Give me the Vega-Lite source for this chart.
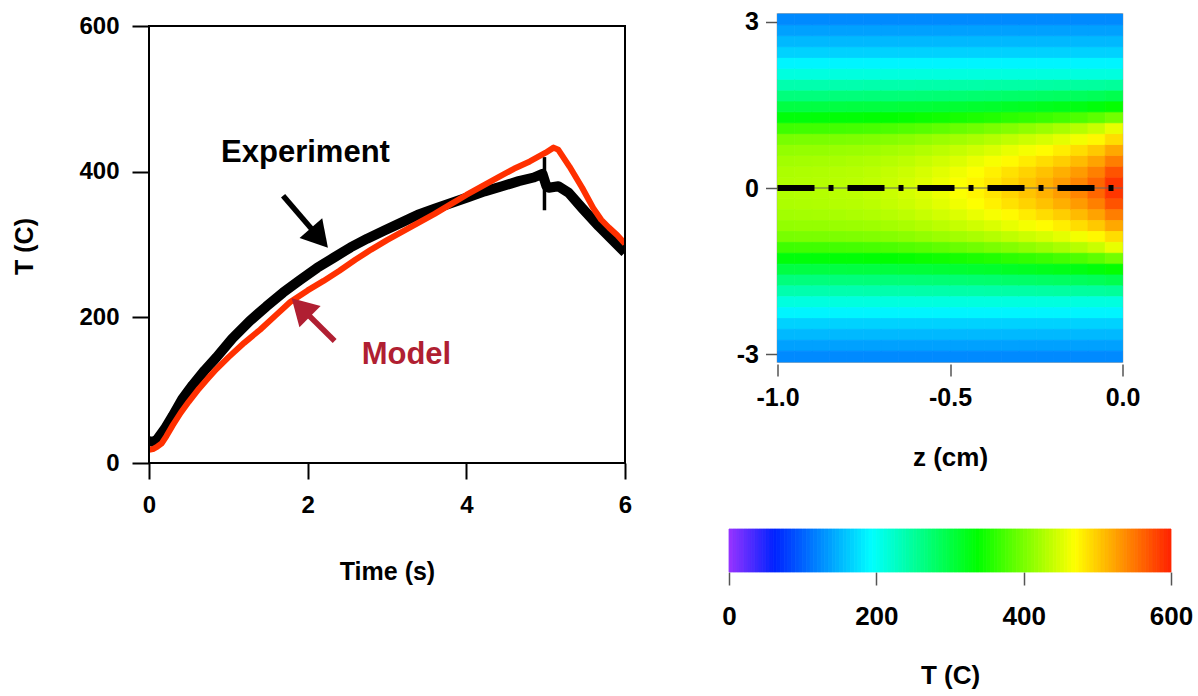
{
"$schema": "https://vega.github.io/schema/vega-lite/v6.json",
"background": "white",
"padding": {"left": 12, "top": 9, "right": 5, "bottom": 5},
"datasets": {
"exp": [{"t":0,"T":30},{"t":0.05,"T":29},{"t":0.1,"T":32},{"t":0.2,"T":47},{"t":0.3,"T":65},{"t":0.42,"T":88},{"t":0.55,"T":107},{"t":0.7,"T":127},{"t":0.85,"T":145},{"t":1.05,"T":171},{"t":1.27,"T":195},{"t":1.48,"T":215},{"t":1.69,"T":234},{"t":1.9,"T":251},{"t":2.12,"T":268},{"t":2.33,"T":282},{"t":2.54,"T":296},{"t":2.75,"T":308},{"t":2.96,"T":319},{"t":3.18,"T":330},{"t":3.39,"T":341},{"t":3.6,"T":349},{"t":3.81,"T":357},{"t":4.02,"T":365},{"t":4.23,"T":373},{"t":4.45,"T":380},{"t":4.66,"T":387},{"t":4.85,"T":392},{"t":4.96,"T":397},{"t":5.01,"T":380},{"t":5.04,"T":378},{"t":5.16,"T":380},{"t":5.29,"T":371},{"t":5.46,"T":350},{"t":5.67,"T":325},{"t":5.88,"T":302},{"t":6,"T":289}],
"model": [{"t":0,"T":18},{"t":0.05,"T":19},{"t":0.1,"T":22},{"t":0.16,"T":27},{"t":0.22,"T":37},{"t":0.3,"T":52},{"t":0.4,"T":69},{"t":0.5,"T":84},{"t":0.63,"T":102},{"t":0.75,"T":117},{"t":0.85,"T":129},{"t":1.0,"T":145},{"t":1.2,"T":165},{"t":1.4,"T":183},{"t":1.6,"T":203},{"t":1.78,"T":221},{"t":2.0,"T":237},{"t":2.2,"T":250},{"t":2.4,"T":264},{"t":2.6,"T":279},{"t":2.8,"T":293},{"t":3.0,"T":306},{"t":3.2,"T":318},{"t":3.4,"T":330},{"t":3.6,"T":342},{"t":3.8,"T":355},{"t":4.0,"T":368},{"t":4.2,"T":380},{"t":4.4,"T":392},{"t":4.6,"T":404},{"t":4.8,"T":414},{"t":5.0,"T":426},{"t":5.1,"T":433},{"t":5.16,"T":430},{"t":5.3,"T":407},{"t":5.46,"T":378},{"t":5.6,"T":350},{"t":5.7,"T":334},{"t":5.8,"T":323},{"t":5.9,"T":313},{"t":6.0,"T":301}],
"bar": [{"a":0,"b":5,"c":2.5},{"a":5,"b":10,"c":7.5},{"a":10,"b":15,"c":12.5},{"a":15,"b":20,"c":17.5},{"a":20,"b":25,"c":22.5},{"a":25,"b":30,"c":27.5},{"a":30,"b":35,"c":32.5},{"a":35,"b":40,"c":37.5},{"a":40,"b":45,"c":42.5},{"a":45,"b":50,"c":47.5},{"a":50,"b":55,"c":52.5},{"a":55,"b":60,"c":57.5},{"a":60,"b":65,"c":62.5},{"a":65,"b":70,"c":67.5},{"a":70,"b":75,"c":72.5},{"a":75,"b":80,"c":77.5},{"a":80,"b":85,"c":82.5},{"a":85,"b":90,"c":87.5},{"a":90,"b":95,"c":92.5},{"a":95,"b":100,"c":97.5},{"a":100,"b":105,"c":102.5},{"a":105,"b":110,"c":107.5},{"a":110,"b":115,"c":112.5},{"a":115,"b":120,"c":117.5},{"a":120,"b":125,"c":122.5},{"a":125,"b":130,"c":127.5},{"a":130,"b":135,"c":132.5},{"a":135,"b":140,"c":137.5},{"a":140,"b":145,"c":142.5},{"a":145,"b":150,"c":147.5},{"a":150,"b":155,"c":152.5},{"a":155,"b":160,"c":157.5},{"a":160,"b":165,"c":162.5},{"a":165,"b":170,"c":167.5},{"a":170,"b":175,"c":172.5},{"a":175,"b":180,"c":177.5},{"a":180,"b":185,"c":182.5},{"a":185,"b":190,"c":187.5},{"a":190,"b":195,"c":192.5},{"a":195,"b":200,"c":197.5},{"a":200,"b":205,"c":202.5},{"a":205,"b":210,"c":207.5},{"a":210,"b":215,"c":212.5},{"a":215,"b":220,"c":217.5},{"a":220,"b":225,"c":222.5},{"a":225,"b":230,"c":227.5},{"a":230,"b":235,"c":232.5},{"a":235,"b":240,"c":237.5},{"a":240,"b":245,"c":242.5},{"a":245,"b":250,"c":247.5},{"a":250,"b":255,"c":252.5},{"a":255,"b":260,"c":257.5},{"a":260,"b":265,"c":262.5},{"a":265,"b":270,"c":267.5},{"a":270,"b":275,"c":272.5},{"a":275,"b":280,"c":277.5},{"a":280,"b":285,"c":282.5},{"a":285,"b":290,"c":287.5},{"a":290,"b":295,"c":292.5},{"a":295,"b":300,"c":297.5},{"a":300,"b":305,"c":302.5},{"a":305,"b":310,"c":307.5},{"a":310,"b":315,"c":312.5},{"a":315,"b":320,"c":317.5},{"a":320,"b":325,"c":322.5},{"a":325,"b":330,"c":327.5},{"a":330,"b":335,"c":332.5},{"a":335,"b":340,"c":337.5},{"a":340,"b":345,"c":342.5},{"a":345,"b":350,"c":347.5},{"a":350,"b":355,"c":352.5},{"a":355,"b":360,"c":357.5},{"a":360,"b":365,"c":362.5},{"a":365,"b":370,"c":367.5},{"a":370,"b":375,"c":372.5},{"a":375,"b":380,"c":377.5},{"a":380,"b":385,"c":382.5},{"a":385,"b":390,"c":387.5},{"a":390,"b":395,"c":392.5},{"a":395,"b":400,"c":397.5},{"a":400,"b":405,"c":402.5},{"a":405,"b":410,"c":407.5},{"a":410,"b":415,"c":412.5},{"a":415,"b":420,"c":417.5},{"a":420,"b":425,"c":422.5},{"a":425,"b":430,"c":427.5},{"a":430,"b":435,"c":432.5},{"a":435,"b":440,"c":437.5},{"a":440,"b":445,"c":442.5},{"a":445,"b":450,"c":447.5},{"a":450,"b":455,"c":452.5},{"a":455,"b":460,"c":457.5},{"a":460,"b":465,"c":462.5},{"a":465,"b":470,"c":467.5},{"a":470,"b":475,"c":472.5},{"a":475,"b":480,"c":477.5},{"a":480,"b":485,"c":482.5},{"a":485,"b":490,"c":487.5},{"a":490,"b":495,"c":492.5},{"a":495,"b":500,"c":497.5},{"a":500,"b":505,"c":502.5},{"a":505,"b":510,"c":507.5},{"a":510,"b":515,"c":512.5},{"a":515,"b":520,"c":517.5},{"a":520,"b":525,"c":522.5},{"a":525,"b":530,"c":527.5},{"a":530,"b":535,"c":532.5},{"a":535,"b":540,"c":537.5},{"a":540,"b":545,"c":542.5},{"a":545,"b":550,"c":547.5},{"a":550,"b":555,"c":552.5},{"a":555,"b":560,"c":557.5},{"a":560,"b":565,"c":562.5},{"a":565,"b":570,"c":567.5},{"a":570,"b":575,"c":572.5},{"a":575,"b":580,"c":577.5},{"a":580,"b":585,"c":582.5},{"a":585,"b":590,"c":587.5},{"a":590,"b":595,"c":592.5},{"a":595,"b":600,"c":597.5}],
"field": [
{"z":-0.975,"r":0.098,"T":429},{"z":-0.975,"r":0.295,"T":427},{"z":-0.975,"r":0.491,"T":422},{"z":-0.975,"r":0.687,"T":414},{"z":-0.975,"r":0.884,"T":400},{"z":-0.975,"r":1.08,"T":370},{"z":-0.975,"r":1.276,"T":333},{"z":-0.975,"r":1.473,"T":300},{"z":-0.975,"r":1.669,"T":268},{"z":-0.975,"r":1.865,"T":240},{"z":-0.975,"r":2.062,"T":212},{"z":-0.975,"r":2.258,"T":188},{"z":-0.975,"r":2.454,"T":167},{"z":-0.975,"r":2.651,"T":152},{"z":-0.975,"r":2.847,"T":138},{"z":-0.975,"r":3.043,"T":124},
{"z":-0.975,"r":-0.098,"T":429},{"z":-0.975,"r":-0.295,"T":427},{"z":-0.975,"r":-0.491,"T":422},{"z":-0.975,"r":-0.687,"T":414},{"z":-0.975,"r":-0.884,"T":400},{"z":-0.975,"r":-1.08,"T":370},{"z":-0.975,"r":-1.276,"T":333},{"z":-0.975,"r":-1.473,"T":300},{"z":-0.975,"r":-1.669,"T":268},{"z":-0.975,"r":-1.865,"T":240},{"z":-0.975,"r":-2.062,"T":212},{"z":-0.975,"r":-2.258,"T":188},{"z":-0.975,"r":-2.454,"T":167},{"z":-0.975,"r":-2.651,"T":152},{"z":-0.975,"r":-2.847,"T":138},{"z":-0.975,"r":-3.043,"T":124},
{"z":-0.925,"r":0.098,"T":430},{"z":-0.925,"r":0.295,"T":428},{"z":-0.925,"r":0.491,"T":423},{"z":-0.925,"r":0.687,"T":415},{"z":-0.925,"r":0.884,"T":401},{"z":-0.925,"r":1.08,"T":371},{"z":-0.925,"r":1.276,"T":333},{"z":-0.925,"r":1.473,"T":300},{"z":-0.925,"r":1.669,"T":268},{"z":-0.925,"r":1.865,"T":240},{"z":-0.925,"r":2.062,"T":212},{"z":-0.925,"r":2.258,"T":188},{"z":-0.925,"r":2.454,"T":167},{"z":-0.925,"r":2.651,"T":152},{"z":-0.925,"r":2.847,"T":138},{"z":-0.925,"r":3.043,"T":124},
{"z":-0.925,"r":-0.098,"T":430},{"z":-0.925,"r":-0.295,"T":428},{"z":-0.925,"r":-0.491,"T":423},{"z":-0.925,"r":-0.687,"T":415},{"z":-0.925,"r":-0.884,"T":401},{"z":-0.925,"r":-1.08,"T":371},{"z":-0.925,"r":-1.276,"T":333},{"z":-0.925,"r":-1.473,"T":300},{"z":-0.925,"r":-1.669,"T":268},{"z":-0.925,"r":-1.865,"T":240},{"z":-0.925,"r":-2.062,"T":212},{"z":-0.925,"r":-2.258,"T":188},{"z":-0.925,"r":-2.454,"T":167},{"z":-0.925,"r":-2.651,"T":152},{"z":-0.925,"r":-2.847,"T":138},{"z":-0.925,"r":-3.043,"T":124},
{"z":-0.875,"r":0.098,"T":431},{"z":-0.875,"r":0.295,"T":429},{"z":-0.875,"r":0.491,"T":424},{"z":-0.875,"r":0.687,"T":415},{"z":-0.875,"r":0.884,"T":401},{"z":-0.875,"r":1.08,"T":371},{"z":-0.875,"r":1.276,"T":334},{"z":-0.875,"r":1.473,"T":301},{"z":-0.875,"r":1.669,"T":268},{"z":-0.875,"r":1.865,"T":240},{"z":-0.875,"r":2.062,"T":212},{"z":-0.875,"r":2.258,"T":188},{"z":-0.875,"r":2.454,"T":167},{"z":-0.875,"r":2.651,"T":152},{"z":-0.875,"r":2.847,"T":138},{"z":-0.875,"r":3.043,"T":124},
{"z":-0.875,"r":-0.098,"T":431},{"z":-0.875,"r":-0.295,"T":429},{"z":-0.875,"r":-0.491,"T":424},{"z":-0.875,"r":-0.687,"T":415},{"z":-0.875,"r":-0.884,"T":401},{"z":-0.875,"r":-1.08,"T":371},{"z":-0.875,"r":-1.276,"T":334},{"z":-0.875,"r":-1.473,"T":301},{"z":-0.875,"r":-1.669,"T":268},{"z":-0.875,"r":-1.865,"T":240},{"z":-0.875,"r":-2.062,"T":212},{"z":-0.875,"r":-2.258,"T":188},{"z":-0.875,"r":-2.454,"T":167},{"z":-0.875,"r":-2.651,"T":152},{"z":-0.875,"r":-2.847,"T":138},{"z":-0.875,"r":-3.043,"T":124},
{"z":-0.825,"r":0.098,"T":433},{"z":-0.825,"r":0.295,"T":431},{"z":-0.825,"r":0.491,"T":425},{"z":-0.825,"r":0.687,"T":417},{"z":-0.825,"r":0.884,"T":402},{"z":-0.825,"r":1.08,"T":372},{"z":-0.825,"r":1.276,"T":335},{"z":-0.825,"r":1.473,"T":301},{"z":-0.825,"r":1.669,"T":269},{"z":-0.825,"r":1.865,"T":240},{"z":-0.825,"r":2.062,"T":212},{"z":-0.825,"r":2.258,"T":188},{"z":-0.825,"r":2.454,"T":167},{"z":-0.825,"r":2.651,"T":152},{"z":-0.825,"r":2.847,"T":138},{"z":-0.825,"r":3.043,"T":124},
{"z":-0.825,"r":-0.098,"T":433},{"z":-0.825,"r":-0.295,"T":431},{"z":-0.825,"r":-0.491,"T":425},{"z":-0.825,"r":-0.687,"T":417},{"z":-0.825,"r":-0.884,"T":402},{"z":-0.825,"r":-1.08,"T":372},{"z":-0.825,"r":-1.276,"T":335},{"z":-0.825,"r":-1.473,"T":301},{"z":-0.825,"r":-1.669,"T":269},{"z":-0.825,"r":-1.865,"T":240},{"z":-0.825,"r":-2.062,"T":212},{"z":-0.825,"r":-2.258,"T":188},{"z":-0.825,"r":-2.454,"T":167},{"z":-0.825,"r":-2.651,"T":152},{"z":-0.825,"r":-2.847,"T":138},{"z":-0.825,"r":-3.043,"T":124},
{"z":-0.775,"r":0.098,"T":435},{"z":-0.775,"r":0.295,"T":432},{"z":-0.775,"r":0.491,"T":427},{"z":-0.775,"r":0.687,"T":418},{"z":-0.775,"r":0.884,"T":403},{"z":-0.775,"r":1.08,"T":373},{"z":-0.775,"r":1.276,"T":335},{"z":-0.775,"r":1.473,"T":302},{"z":-0.775,"r":1.669,"T":269},{"z":-0.775,"r":1.865,"T":240},{"z":-0.775,"r":2.062,"T":212},{"z":-0.775,"r":2.258,"T":188},{"z":-0.775,"r":2.454,"T":167},{"z":-0.775,"r":2.651,"T":152},{"z":-0.775,"r":2.847,"T":138},{"z":-0.775,"r":3.043,"T":124},
{"z":-0.775,"r":-0.098,"T":435},{"z":-0.775,"r":-0.295,"T":432},{"z":-0.775,"r":-0.491,"T":427},{"z":-0.775,"r":-0.687,"T":418},{"z":-0.775,"r":-0.884,"T":403},{"z":-0.775,"r":-1.08,"T":373},{"z":-0.775,"r":-1.276,"T":335},{"z":-0.775,"r":-1.473,"T":302},{"z":-0.775,"r":-1.669,"T":269},{"z":-0.775,"r":-1.865,"T":240},{"z":-0.775,"r":-2.062,"T":212},{"z":-0.775,"r":-2.258,"T":188},{"z":-0.775,"r":-2.454,"T":167},{"z":-0.775,"r":-2.651,"T":152},{"z":-0.775,"r":-2.847,"T":138},{"z":-0.775,"r":-3.043,"T":124},
{"z":-0.725,"r":0.098,"T":438},{"z":-0.725,"r":0.295,"T":435},{"z":-0.725,"r":0.491,"T":429},{"z":-0.725,"r":0.687,"T":420},{"z":-0.725,"r":0.884,"T":405},{"z":-0.725,"r":1.08,"T":375},{"z":-0.725,"r":1.276,"T":337},{"z":-0.725,"r":1.473,"T":302},{"z":-0.725,"r":1.669,"T":270},{"z":-0.725,"r":1.865,"T":241},{"z":-0.725,"r":2.062,"T":212},{"z":-0.725,"r":2.258,"T":188},{"z":-0.725,"r":2.454,"T":167},{"z":-0.725,"r":2.651,"T":152},{"z":-0.725,"r":2.847,"T":138},{"z":-0.725,"r":3.043,"T":124},
{"z":-0.725,"r":-0.098,"T":438},{"z":-0.725,"r":-0.295,"T":435},{"z":-0.725,"r":-0.491,"T":429},{"z":-0.725,"r":-0.687,"T":420},{"z":-0.725,"r":-0.884,"T":405},{"z":-0.725,"r":-1.08,"T":375},{"z":-0.725,"r":-1.276,"T":337},{"z":-0.725,"r":-1.473,"T":302},{"z":-0.725,"r":-1.669,"T":270},{"z":-0.725,"r":-1.865,"T":241},{"z":-0.725,"r":-2.062,"T":212},{"z":-0.725,"r":-2.258,"T":188},{"z":-0.725,"r":-2.454,"T":167},{"z":-0.725,"r":-2.651,"T":152},{"z":-0.725,"r":-2.847,"T":138},{"z":-0.725,"r":-3.043,"T":124},
{"z":-0.675,"r":0.098,"T":442},{"z":-0.675,"r":0.295,"T":439},{"z":-0.675,"r":0.491,"T":432},{"z":-0.675,"r":0.687,"T":423},{"z":-0.675,"r":0.884,"T":407},{"z":-0.675,"r":1.08,"T":377},{"z":-0.675,"r":1.276,"T":338},{"z":-0.675,"r":1.473,"T":303},{"z":-0.675,"r":1.669,"T":270},{"z":-0.675,"r":1.865,"T":241},{"z":-0.675,"r":2.062,"T":212},{"z":-0.675,"r":2.258,"T":188},{"z":-0.675,"r":2.454,"T":167},{"z":-0.675,"r":2.651,"T":152},{"z":-0.675,"r":2.847,"T":138},{"z":-0.675,"r":3.043,"T":124},
{"z":-0.675,"r":-0.098,"T":442},{"z":-0.675,"r":-0.295,"T":439},{"z":-0.675,"r":-0.491,"T":432},{"z":-0.675,"r":-0.687,"T":423},{"z":-0.675,"r":-0.884,"T":407},{"z":-0.675,"r":-1.08,"T":377},{"z":-0.675,"r":-1.276,"T":338},{"z":-0.675,"r":-1.473,"T":303},{"z":-0.675,"r":-1.669,"T":270},{"z":-0.675,"r":-1.865,"T":241},{"z":-0.675,"r":-2.062,"T":212},{"z":-0.675,"r":-2.258,"T":188},{"z":-0.675,"r":-2.454,"T":167},{"z":-0.675,"r":-2.651,"T":152},{"z":-0.675,"r":-2.847,"T":138},{"z":-0.675,"r":-3.043,"T":124},
{"z":-0.625,"r":0.098,"T":447},{"z":-0.625,"r":0.295,"T":443},{"z":-0.625,"r":0.491,"T":436},{"z":-0.625,"r":0.687,"T":426},{"z":-0.625,"r":0.884,"T":410},{"z":-0.625,"r":1.08,"T":380},{"z":-0.625,"r":1.276,"T":340},{"z":-0.625,"r":1.473,"T":305},{"z":-0.625,"r":1.669,"T":271},{"z":-0.625,"r":1.865,"T":241},{"z":-0.625,"r":2.062,"T":212},{"z":-0.625,"r":2.258,"T":188},{"z":-0.625,"r":2.454,"T":167},{"z":-0.625,"r":2.651,"T":152},{"z":-0.625,"r":2.847,"T":138},{"z":-0.625,"r":3.043,"T":124},
{"z":-0.625,"r":-0.098,"T":447},{"z":-0.625,"r":-0.295,"T":443},{"z":-0.625,"r":-0.491,"T":436},{"z":-0.625,"r":-0.687,"T":426},{"z":-0.625,"r":-0.884,"T":410},{"z":-0.625,"r":-1.08,"T":380},{"z":-0.625,"r":-1.276,"T":340},{"z":-0.625,"r":-1.473,"T":305},{"z":-0.625,"r":-1.669,"T":271},{"z":-0.625,"r":-1.865,"T":241},{"z":-0.625,"r":-2.062,"T":212},{"z":-0.625,"r":-2.258,"T":188},{"z":-0.625,"r":-2.454,"T":167},{"z":-0.625,"r":-2.651,"T":152},{"z":-0.625,"r":-2.847,"T":138},{"z":-0.625,"r":-3.043,"T":124},
{"z":-0.575,"r":0.098,"T":453},{"z":-0.575,"r":0.295,"T":449},{"z":-0.575,"r":0.491,"T":441},{"z":-0.575,"r":0.687,"T":430},{"z":-0.575,"r":0.884,"T":414},{"z":-0.575,"r":1.08,"T":383},{"z":-0.575,"r":1.276,"T":343},{"z":-0.575,"r":1.473,"T":306},{"z":-0.575,"r":1.669,"T":272},{"z":-0.575,"r":1.865,"T":242},{"z":-0.575,"r":2.062,"T":212},{"z":-0.575,"r":2.258,"T":188},{"z":-0.575,"r":2.454,"T":167},{"z":-0.575,"r":2.651,"T":152},{"z":-0.575,"r":2.847,"T":138},{"z":-0.575,"r":3.043,"T":124},
{"z":-0.575,"r":-0.098,"T":453},{"z":-0.575,"r":-0.295,"T":449},{"z":-0.575,"r":-0.491,"T":441},{"z":-0.575,"r":-0.687,"T":430},{"z":-0.575,"r":-0.884,"T":414},{"z":-0.575,"r":-1.08,"T":383},{"z":-0.575,"r":-1.276,"T":343},{"z":-0.575,"r":-1.473,"T":306},{"z":-0.575,"r":-1.669,"T":272},{"z":-0.575,"r":-1.865,"T":242},{"z":-0.575,"r":-2.062,"T":212},{"z":-0.575,"r":-2.258,"T":188},{"z":-0.575,"r":-2.454,"T":167},{"z":-0.575,"r":-2.651,"T":152},{"z":-0.575,"r":-2.847,"T":138},{"z":-0.575,"r":-3.043,"T":124},
{"z":-0.525,"r":0.098,"T":460},{"z":-0.525,"r":0.295,"T":455},{"z":-0.525,"r":0.491,"T":446},{"z":-0.525,"r":0.687,"T":435},{"z":-0.525,"r":0.884,"T":418},{"z":-0.525,"r":1.08,"T":387},{"z":-0.525,"r":1.276,"T":346},{"z":-0.525,"r":1.473,"T":308},{"z":-0.525,"r":1.669,"T":273},{"z":-0.525,"r":1.865,"T":242},{"z":-0.525,"r":2.062,"T":212},{"z":-0.525,"r":2.258,"T":188},{"z":-0.525,"r":2.454,"T":167},{"z":-0.525,"r":2.651,"T":152},{"z":-0.525,"r":2.847,"T":138},{"z":-0.525,"r":3.043,"T":124},
{"z":-0.525,"r":-0.098,"T":460},{"z":-0.525,"r":-0.295,"T":455},{"z":-0.525,"r":-0.491,"T":446},{"z":-0.525,"r":-0.687,"T":435},{"z":-0.525,"r":-0.884,"T":418},{"z":-0.525,"r":-1.08,"T":387},{"z":-0.525,"r":-1.276,"T":346},{"z":-0.525,"r":-1.473,"T":308},{"z":-0.525,"r":-1.669,"T":273},{"z":-0.525,"r":-1.865,"T":242},{"z":-0.525,"r":-2.062,"T":212},{"z":-0.525,"r":-2.258,"T":188},{"z":-0.525,"r":-2.454,"T":167},{"z":-0.525,"r":-2.651,"T":152},{"z":-0.525,"r":-2.847,"T":138},{"z":-0.525,"r":-3.043,"T":124},
{"z":-0.475,"r":0.098,"T":468},{"z":-0.475,"r":0.295,"T":462},{"z":-0.475,"r":0.491,"T":452},{"z":-0.475,"r":0.687,"T":440},{"z":-0.475,"r":0.884,"T":422},{"z":-0.475,"r":1.08,"T":392},{"z":-0.475,"r":1.276,"T":349},{"z":-0.475,"r":1.473,"T":310},{"z":-0.475,"r":1.669,"T":274},{"z":-0.475,"r":1.865,"T":243},{"z":-0.475,"r":2.062,"T":212},{"z":-0.475,"r":2.258,"T":188},{"z":-0.475,"r":2.454,"T":167},{"z":-0.475,"r":2.651,"T":152},{"z":-0.475,"r":2.847,"T":138},{"z":-0.475,"r":3.043,"T":124},
{"z":-0.475,"r":-0.098,"T":468},{"z":-0.475,"r":-0.295,"T":462},{"z":-0.475,"r":-0.491,"T":452},{"z":-0.475,"r":-0.687,"T":440},{"z":-0.475,"r":-0.884,"T":422},{"z":-0.475,"r":-1.08,"T":392},{"z":-0.475,"r":-1.276,"T":349},{"z":-0.475,"r":-1.473,"T":310},{"z":-0.475,"r":-1.669,"T":274},{"z":-0.475,"r":-1.865,"T":243},{"z":-0.475,"r":-2.062,"T":212},{"z":-0.475,"r":-2.258,"T":188},{"z":-0.475,"r":-2.454,"T":167},{"z":-0.475,"r":-2.651,"T":152},{"z":-0.475,"r":-2.847,"T":138},{"z":-0.475,"r":-3.043,"T":124},
{"z":-0.425,"r":0.098,"T":476},{"z":-0.425,"r":0.295,"T":469},{"z":-0.425,"r":0.491,"T":459},{"z":-0.425,"r":0.687,"T":445},{"z":-0.425,"r":0.884,"T":426},{"z":-0.425,"r":1.08,"T":396},{"z":-0.425,"r":1.276,"T":352},{"z":-0.425,"r":1.473,"T":312},{"z":-0.425,"r":1.669,"T":276},{"z":-0.425,"r":1.865,"T":243},{"z":-0.425,"r":2.062,"T":212},{"z":-0.425,"r":2.258,"T":188},{"z":-0.425,"r":2.454,"T":167},{"z":-0.425,"r":2.651,"T":152},{"z":-0.425,"r":2.847,"T":138},{"z":-0.425,"r":3.043,"T":124},
{"z":-0.425,"r":-0.098,"T":476},{"z":-0.425,"r":-0.295,"T":469},{"z":-0.425,"r":-0.491,"T":459},{"z":-0.425,"r":-0.687,"T":445},{"z":-0.425,"r":-0.884,"T":426},{"z":-0.425,"r":-1.08,"T":396},{"z":-0.425,"r":-1.276,"T":352},{"z":-0.425,"r":-1.473,"T":312},{"z":-0.425,"r":-1.669,"T":276},{"z":-0.425,"r":-1.865,"T":243},{"z":-0.425,"r":-2.062,"T":212},{"z":-0.425,"r":-2.258,"T":188},{"z":-0.425,"r":-2.454,"T":167},{"z":-0.425,"r":-2.651,"T":152},{"z":-0.425,"r":-2.847,"T":138},{"z":-0.425,"r":-3.043,"T":124},
{"z":-0.375,"r":0.098,"T":485},{"z":-0.375,"r":0.295,"T":478},{"z":-0.375,"r":0.491,"T":466},{"z":-0.375,"r":0.687,"T":451},{"z":-0.375,"r":0.884,"T":431},{"z":-0.375,"r":1.08,"T":401},{"z":-0.375,"r":1.276,"T":355},{"z":-0.375,"r":1.473,"T":314},{"z":-0.375,"r":1.669,"T":277},{"z":-0.375,"r":1.865,"T":244},{"z":-0.375,"r":2.062,"T":212},{"z":-0.375,"r":2.258,"T":188},{"z":-0.375,"r":2.454,"T":167},{"z":-0.375,"r":2.651,"T":152},{"z":-0.375,"r":2.847,"T":138},{"z":-0.375,"r":3.043,"T":124},
{"z":-0.375,"r":-0.098,"T":485},{"z":-0.375,"r":-0.295,"T":478},{"z":-0.375,"r":-0.491,"T":466},{"z":-0.375,"r":-0.687,"T":451},{"z":-0.375,"r":-0.884,"T":431},{"z":-0.375,"r":-1.08,"T":401},{"z":-0.375,"r":-1.276,"T":355},{"z":-0.375,"r":-1.473,"T":314},{"z":-0.375,"r":-1.669,"T":277},{"z":-0.375,"r":-1.865,"T":244},{"z":-0.375,"r":-2.062,"T":212},{"z":-0.375,"r":-2.258,"T":188},{"z":-0.375,"r":-2.454,"T":167},{"z":-0.375,"r":-2.651,"T":152},{"z":-0.375,"r":-2.847,"T":138},{"z":-0.375,"r":-3.043,"T":124},
{"z":-0.325,"r":0.098,"T":495},{"z":-0.325,"r":0.295,"T":487},{"z":-0.325,"r":0.491,"T":473},{"z":-0.325,"r":0.687,"T":458},{"z":-0.325,"r":0.884,"T":437},{"z":-0.325,"r":1.08,"T":406},{"z":-0.325,"r":1.276,"T":360},{"z":-0.325,"r":1.473,"T":317},{"z":-0.325,"r":1.669,"T":279},{"z":-0.325,"r":1.865,"T":245},{"z":-0.325,"r":2.062,"T":212},{"z":-0.325,"r":2.258,"T":188},{"z":-0.325,"r":2.454,"T":167},{"z":-0.325,"r":2.651,"T":152},{"z":-0.325,"r":2.847,"T":138},{"z":-0.325,"r":3.043,"T":124},
{"z":-0.325,"r":-0.098,"T":495},{"z":-0.325,"r":-0.295,"T":487},{"z":-0.325,"r":-0.491,"T":473},{"z":-0.325,"r":-0.687,"T":458},{"z":-0.325,"r":-0.884,"T":437},{"z":-0.325,"r":-1.08,"T":406},{"z":-0.325,"r":-1.276,"T":360},{"z":-0.325,"r":-1.473,"T":317},{"z":-0.325,"r":-1.669,"T":279},{"z":-0.325,"r":-1.865,"T":245},{"z":-0.325,"r":-2.062,"T":212},{"z":-0.325,"r":-2.258,"T":188},{"z":-0.325,"r":-2.454,"T":167},{"z":-0.325,"r":-2.651,"T":152},{"z":-0.325,"r":-2.847,"T":138},{"z":-0.325,"r":-3.043,"T":124},
{"z":-0.275,"r":0.098,"T":505},{"z":-0.275,"r":0.295,"T":496},{"z":-0.275,"r":0.491,"T":481},{"z":-0.275,"r":0.687,"T":465},{"z":-0.275,"r":0.884,"T":443},{"z":-0.275,"r":1.08,"T":412},{"z":-0.275,"r":1.276,"T":364},{"z":-0.275,"r":1.473,"T":319},{"z":-0.275,"r":1.669,"T":280},{"z":-0.275,"r":1.865,"T":245},{"z":-0.275,"r":2.062,"T":212},{"z":-0.275,"r":2.258,"T":188},{"z":-0.275,"r":2.454,"T":167},{"z":-0.275,"r":2.651,"T":152},{"z":-0.275,"r":2.847,"T":138},{"z":-0.275,"r":3.043,"T":124},
{"z":-0.275,"r":-0.098,"T":505},{"z":-0.275,"r":-0.295,"T":496},{"z":-0.275,"r":-0.491,"T":481},{"z":-0.275,"r":-0.687,"T":465},{"z":-0.275,"r":-0.884,"T":443},{"z":-0.275,"r":-1.08,"T":412},{"z":-0.275,"r":-1.276,"T":364},{"z":-0.275,"r":-1.473,"T":319},{"z":-0.275,"r":-1.669,"T":280},{"z":-0.275,"r":-1.865,"T":245},{"z":-0.275,"r":-2.062,"T":212},{"z":-0.275,"r":-2.258,"T":188},{"z":-0.275,"r":-2.454,"T":167},{"z":-0.275,"r":-2.651,"T":152},{"z":-0.275,"r":-2.847,"T":138},{"z":-0.275,"r":-3.043,"T":124},
{"z":-0.225,"r":0.098,"T":516},{"z":-0.225,"r":0.295,"T":506},{"z":-0.225,"r":0.491,"T":490},{"z":-0.225,"r":0.687,"T":472},{"z":-0.225,"r":0.884,"T":449},{"z":-0.225,"r":1.08,"T":418},{"z":-0.225,"r":1.276,"T":368},{"z":-0.225,"r":1.473,"T":322},{"z":-0.225,"r":1.669,"T":282},{"z":-0.225,"r":1.865,"T":246},{"z":-0.225,"r":2.062,"T":212},{"z":-0.225,"r":2.258,"T":188},{"z":-0.225,"r":2.454,"T":167},{"z":-0.225,"r":2.651,"T":152},{"z":-0.225,"r":2.847,"T":138},{"z":-0.225,"r":3.043,"T":124},
{"z":-0.225,"r":-0.098,"T":516},{"z":-0.225,"r":-0.295,"T":506},{"z":-0.225,"r":-0.491,"T":490},{"z":-0.225,"r":-0.687,"T":472},{"z":-0.225,"r":-0.884,"T":449},{"z":-0.225,"r":-1.08,"T":418},{"z":-0.225,"r":-1.276,"T":368},{"z":-0.225,"r":-1.473,"T":322},{"z":-0.225,"r":-1.669,"T":282},{"z":-0.225,"r":-1.865,"T":246},{"z":-0.225,"r":-2.062,"T":212},{"z":-0.225,"r":-2.258,"T":188},{"z":-0.225,"r":-2.454,"T":167},{"z":-0.225,"r":-2.651,"T":152},{"z":-0.225,"r":-2.847,"T":138},{"z":-0.225,"r":-3.043,"T":124},
{"z":-0.175,"r":0.098,"T":528},{"z":-0.175,"r":0.295,"T":517},{"z":-0.175,"r":0.491,"T":499},{"z":-0.175,"r":0.687,"T":480},{"z":-0.175,"r":0.884,"T":456},{"z":-0.175,"r":1.08,"T":425},{"z":-0.175,"r":1.276,"T":373},{"z":-0.175,"r":1.473,"T":325},{"z":-0.175,"r":1.669,"T":284},{"z":-0.175,"r":1.865,"T":247},{"z":-0.175,"r":2.062,"T":212},{"z":-0.175,"r":2.258,"T":188},{"z":-0.175,"r":2.454,"T":167},{"z":-0.175,"r":2.651,"T":152},{"z":-0.175,"r":2.847,"T":138},{"z":-0.175,"r":3.043,"T":124},
{"z":-0.175,"r":-0.098,"T":528},{"z":-0.175,"r":-0.295,"T":517},{"z":-0.175,"r":-0.491,"T":499},{"z":-0.175,"r":-0.687,"T":480},{"z":-0.175,"r":-0.884,"T":456},{"z":-0.175,"r":-1.08,"T":425},{"z":-0.175,"r":-1.276,"T":373},{"z":-0.175,"r":-1.473,"T":325},{"z":-0.175,"r":-1.669,"T":284},{"z":-0.175,"r":-1.865,"T":247},{"z":-0.175,"r":-2.062,"T":212},{"z":-0.175,"r":-2.258,"T":188},{"z":-0.175,"r":-2.454,"T":167},{"z":-0.175,"r":-2.651,"T":152},{"z":-0.175,"r":-2.847,"T":138},{"z":-0.175,"r":-3.043,"T":124},
{"z":-0.125,"r":0.098,"T":542},{"z":-0.125,"r":0.295,"T":529},{"z":-0.125,"r":0.491,"T":510},{"z":-0.125,"r":0.687,"T":490},{"z":-0.125,"r":0.884,"T":464},{"z":-0.125,"r":1.08,"T":432},{"z":-0.125,"r":1.276,"T":378},{"z":-0.125,"r":1.473,"T":328},{"z":-0.125,"r":1.669,"T":286},{"z":-0.125,"r":1.865,"T":248},{"z":-0.125,"r":2.062,"T":212},{"z":-0.125,"r":2.258,"T":188},{"z":-0.125,"r":2.454,"T":167},{"z":-0.125,"r":2.651,"T":152},{"z":-0.125,"r":2.847,"T":138},{"z":-0.125,"r":3.043,"T":124},
{"z":-0.125,"r":-0.098,"T":542},{"z":-0.125,"r":-0.295,"T":529},{"z":-0.125,"r":-0.491,"T":510},{"z":-0.125,"r":-0.687,"T":490},{"z":-0.125,"r":-0.884,"T":464},{"z":-0.125,"r":-1.08,"T":432},{"z":-0.125,"r":-1.276,"T":378},{"z":-0.125,"r":-1.473,"T":328},{"z":-0.125,"r":-1.669,"T":286},{"z":-0.125,"r":-1.865,"T":248},{"z":-0.125,"r":-2.062,"T":212},{"z":-0.125,"r":-2.258,"T":188},{"z":-0.125,"r":-2.454,"T":167},{"z":-0.125,"r":-2.651,"T":152},{"z":-0.125,"r":-2.847,"T":138},{"z":-0.125,"r":-3.043,"T":124},
{"z":-0.075,"r":0.098,"T":560},{"z":-0.075,"r":0.295,"T":545},{"z":-0.075,"r":0.491,"T":524},{"z":-0.075,"r":0.687,"T":502},{"z":-0.075,"r":0.884,"T":474},{"z":-0.075,"r":1.08,"T":442},{"z":-0.075,"r":1.276,"T":386},{"z":-0.075,"r":1.473,"T":333},{"z":-0.075,"r":1.669,"T":289},{"z":-0.075,"r":1.865,"T":249},{"z":-0.075,"r":2.062,"T":212},{"z":-0.075,"r":2.258,"T":188},{"z":-0.075,"r":2.454,"T":167},{"z":-0.075,"r":2.651,"T":152},{"z":-0.075,"r":2.847,"T":138},{"z":-0.075,"r":3.043,"T":124},
{"z":-0.075,"r":-0.098,"T":560},{"z":-0.075,"r":-0.295,"T":545},{"z":-0.075,"r":-0.491,"T":524},{"z":-0.075,"r":-0.687,"T":502},{"z":-0.075,"r":-0.884,"T":474},{"z":-0.075,"r":-1.08,"T":442},{"z":-0.075,"r":-1.276,"T":386},{"z":-0.075,"r":-1.473,"T":333},{"z":-0.075,"r":-1.669,"T":289},{"z":-0.075,"r":-1.865,"T":249},{"z":-0.075,"r":-2.062,"T":212},{"z":-0.075,"r":-2.258,"T":188},{"z":-0.075,"r":-2.454,"T":167},{"z":-0.075,"r":-2.651,"T":152},{"z":-0.075,"r":-2.847,"T":138},{"z":-0.075,"r":-3.043,"T":124},
{"z":-0.025,"r":0.098,"T":588},{"z":-0.025,"r":0.295,"T":571},{"z":-0.025,"r":0.491,"T":546},{"z":-0.025,"r":0.687,"T":521},{"z":-0.025,"r":0.884,"T":490},{"z":-0.025,"r":1.08,"T":458},{"z":-0.025,"r":1.276,"T":397},{"z":-0.025,"r":1.473,"T":340},{"z":-0.025,"r":1.669,"T":294},{"z":-0.025,"r":1.865,"T":251},{"z":-0.025,"r":2.062,"T":212},{"z":-0.025,"r":2.258,"T":188},{"z":-0.025,"r":2.454,"T":167},{"z":-0.025,"r":2.651,"T":152},{"z":-0.025,"r":2.847,"T":138},{"z":-0.025,"r":3.043,"T":124},
{"z":-0.025,"r":-0.098,"T":588},{"z":-0.025,"r":-0.295,"T":571},{"z":-0.025,"r":-0.491,"T":546},{"z":-0.025,"r":-0.687,"T":521},{"z":-0.025,"r":-0.884,"T":490},{"z":-0.025,"r":-1.08,"T":458},{"z":-0.025,"r":-1.276,"T":397},{"z":-0.025,"r":-1.473,"T":340},{"z":-0.025,"r":-1.669,"T":294},{"z":-0.025,"r":-1.865,"T":251},{"z":-0.025,"r":-2.062,"T":212},{"z":-0.025,"r":-2.258,"T":188},{"z":-0.025,"r":-2.454,"T":167},{"z":-0.025,"r":-2.651,"T":152},{"z":-0.025,"r":-2.847,"T":138},{"z":-0.025,"r":-3.043,"T":124}
]
},
"hconcat": [
{
"width": 476, "height": 449,
"layer": [
{"data": {"name": "exp"}, "mark": {"type": "line", "color": "#000", "strokeWidth": 10, "strokeJoin": "round", "strokeCap": "butt", "clip": true},
 "encoding": {
  "x": {"field": "t", "type": "quantitative", "scale": {"domain": [0, 6], "nice": false, "zero": false},
        "axis": {"values": [0, 2, 4, 6], "format": "d", "tickSize": 16, "tickWidth": 2, "tickColor": "#000", "labelFontSize": 24, "labelPadding": 14, "title": "Time (s)", "titleFontSize": 25, "titlePadding": 42, "domain": false}},
  "y": {"field": "T", "type": "quantitative", "scale": {"domain": [0, 616.48], "nice": false},
        "axis": {"values": [0, 200, 400, 600], "format": "d", "tickSize": 17, "tickWidth": 2, "tickColor": "#000", "labelFontSize": 24, "labelPadding": 13, "title": "T (C)", "titleFontSize": 25, "titlePadding": 41, "titleY": 232, "domain": false}}
 }},
{"data": {"values": [{"t": 4.985, "T": 420, "T2": 347}]}, "mark": {"type": "rule", "color": "#000", "strokeWidth": 3.5},
 "encoding": {"x": {"field": "t", "type": "quantitative"}, "y": {"field": "T", "type": "quantitative"}, "y2": {"field": "T2"}}},
{"data": {"name": "model"}, "mark": {"type": "line", "color": "#ff3000", "strokeWidth": 6, "strokeJoin": "round", "clip": true},
 "encoding": {"x": {"field": "t", "type": "quantitative"}, "y": {"field": "T", "type": "quantitative"}}},
{"data": {"values": [{"t": 1.69, "T": 367, "t2": 2.148, "T2": 309}]}, "mark": {"type": "rule", "color": "#000", "strokeWidth": 5.5},
 "encoding": {"x": {"field": "t", "type": "quantitative"}, "y": {"field": "T", "type": "quantitative"}, "x2": {"field": "t2"}, "y2": {"field": "T2"}}},
{"data": {"values": [{"t": 2.148, "T": 309}]}, "mark": {"type": "point", "shape": "triangle-up", "size": 900, "angle": 139, "filled": true, "color": "#000", "opacity": 1, "strokeWidth": 0},
 "encoding": {"x": {"field": "t", "type": "quantitative"}, "y": {"field": "T", "type": "quantitative"}}},
{"data": {"values": [{"t": 2.34, "T": 167.5, "t2": 1.914, "T2": 213.5}]}, "mark": {"type": "rule", "color": "#b01f32", "strokeWidth": 5.5},
 "encoding": {"x": {"field": "t", "type": "quantitative"}, "y": {"field": "T", "type": "quantitative"}, "x2": {"field": "t2"}, "y2": {"field": "T2"}}},
{"data": {"values": [{"t": 1.914, "T": 213.5}]}, "mark": {"type": "point", "shape": "triangle-up", "size": 900, "angle": 315, "filled": true, "color": "#b01f32", "opacity": 1, "strokeWidth": 0},
 "encoding": {"x": {"field": "t", "type": "quantitative"}, "y": {"field": "T", "type": "quantitative"}}},
{"data": {"values": [{"t": 1.973, "T": 413.3, "label": "Experiment"}]}, "mark": {"type": "text", "font": "Liberation Sans", "fontWeight": "bold", "fontSize": 31, "color": "#000", "align": "center", "baseline": "alphabetic"},
 "encoding": {"x": {"field": "t", "type": "quantitative"}, "y": {"field": "T", "type": "quantitative"}, "text": {"field": "label"}}},
{"data": {"values": [{"t": 3.245, "T": 135.9, "label": "Model"}]}, "mark": {"type": "text", "font": "Liberation Sans", "fontWeight": "bold", "fontSize": 31, "color": "#b01f32", "align": "center", "baseline": "alphabetic"},
 "encoding": {"x": {"field": "t", "type": "quantitative"}, "y": {"field": "T", "type": "quantitative"}, "text": {"field": "label"}}},
{"data": {"values": [{"t": 0, "t2": 6, "T": 0, "T2": 600}]}, "mark": {"type": "rect", "filled": false, "color": "#000", "strokeWidth": 2},
 "encoding": {"x": {"field": "t", "type": "quantitative"}, "x2": {"field": "t2"}, "y": {"field": "T", "type": "quantitative"}, "y2": {"field": "T2"}}}
]
},
{
"vconcat": [
{
"width": 345, "height": 348,
"view": {"stroke": "#999", "strokeWidth": 1.5},
"layer": [
{"data": {"name": "field"}, "mark": {"type": "rect", "strokeWidth": 0.8},
 "encoding": {
  "x": {"field": "z", "type": "ordinal", "sort": "ascending", "axis": null, "scale": {"paddingInner": 0, "paddingOuter": 0}},
  "y": {"field": "r", "type": "ordinal", "sort": "descending", "axis": null, "scale": {"paddingInner": 0, "paddingOuter": 0}},
  "color": {"field": "T", "type": "quantitative", "legend": null, "scale": {"type": "linear", "domain": [0, 62, 194, 338, 470, 600], "range": ["#9933ff", "#0022ff", "#00ffff", "#00ff00", "#ffff00", "#ff2200"], "interpolate": "rgb"}},
  "stroke": {"field": "T", "type": "quantitative", "legend": null, "scale": {"type": "linear", "domain": [0, 62, 194, 338, 470, 600], "range": ["#9933ff", "#0022ff", "#00ffff", "#00ff00", "#ffff00", "#ff2200"], "interpolate": "rgb"}}
 }},
{
"data": {"values": [{"z": -1, "z2": 0, "r": 0}]},
"layer": [
{"mark": {"type": "rule", "color": "#666", "strokeWidth": 1},
 "encoding": {
  "x": {"field": "z", "type": "quantitative", "scale": {"domain": [-1, 0], "nice": false, "zero": false},
        "axis": {"values": [-1, -0.5, 0], "format": ".1f", "labelExpr": "replace(datum.label, '−', '-')", "offset": 2, "tickSize": 12, "tickWidth": 1.5, "tickColor": "#555", "labelFontSize": 25, "labelPadding": 9, "title": "z (cm)", "titleFontSize": 26, "titlePadding": 34, "domain": false}},
  "x2": {"field": "z2"},
  "y": {"field": "r", "type": "quantitative", "scale": {"domain": [-3.14159, 3.14159], "nice": false, "zero": false},
        "axis": {"values": [-3, 0, 3], "format": "d", "labelExpr": "replace(datum.label, '−', '-')", "tickSize": 12, "tickWidth": 1.5, "tickColor": "#555", "labelFontSize": 25, "labelPadding": 7, "title": null, "domain": false}}
 }},
{"mark": {"type": "rule", "color": "#000", "strokeWidth": 6, "strokeDash": [37, 14, 5, 14]},
 "encoding": {"x": {"field": "z", "type": "quantitative"}, "x2": {"field": "z2"}, "y": {"field": "r", "type": "quantitative"}}}
]
}
],
"resolve": {"scale": {"x": "independent", "y": "independent"}}
},
{
"width": 442, "height": 43,
"data": {"name": "bar"},
"mark": {"type": "rect", "strokeWidth": 0.8},
"encoding": {
 "x": {"field": "a", "type": "quantitative", "scale": {"domain": [0, 600], "nice": false, "zero": false},
       "axis": {"values": [0, 200, 400, 600], "format": "d", "tickSize": 13, "tickWidth": 1.5, "tickColor": "#555", "labelFontSize": 26, "labelPadding": 18, "title": "T (C)", "titleFontSize": 26, "titlePadding": 33, "domain": false}},
 "x2": {"field": "b"},
 "color": {"field": "c", "type": "quantitative", "legend": null, "scale": {"type": "linear", "domain": [0, 62, 194, 338, 470, 600], "range": ["#9933ff", "#0022ff", "#00ffff", "#00ff00", "#ffff00", "#ff2200"], "interpolate": "rgb"}},
 "stroke": {"field": "c", "type": "quantitative", "legend": null, "scale": {"type": "linear", "domain": [0, 62, 194, 338, 470, 600], "range": ["#9933ff", "#0022ff", "#00ffff", "#00ff00", "#ffff00", "#ff2200"], "interpolate": "rgb"}}
}
}
],
"spacing": 167,
"bounds": "flush",
"center": true,
"resolve": {"scale": {"color": "independent", "stroke": "independent"}}
}
],
"spacing": 89,
"resolve": {"scale": {"color": "independent", "stroke": "independent"}},
"config": {
 "font": "Liberation Sans",
 "view": {"stroke": null},
 "axis": {"labelFont": "Liberation Sans", "titleFont": "Liberation Sans", "labelFontWeight": "bold", "titleFontWeight": "bold", "labelColor": "#000", "titleColor": "#000", "labelFlush": false, "grid": false, "labelOverlap": false}
}
}
